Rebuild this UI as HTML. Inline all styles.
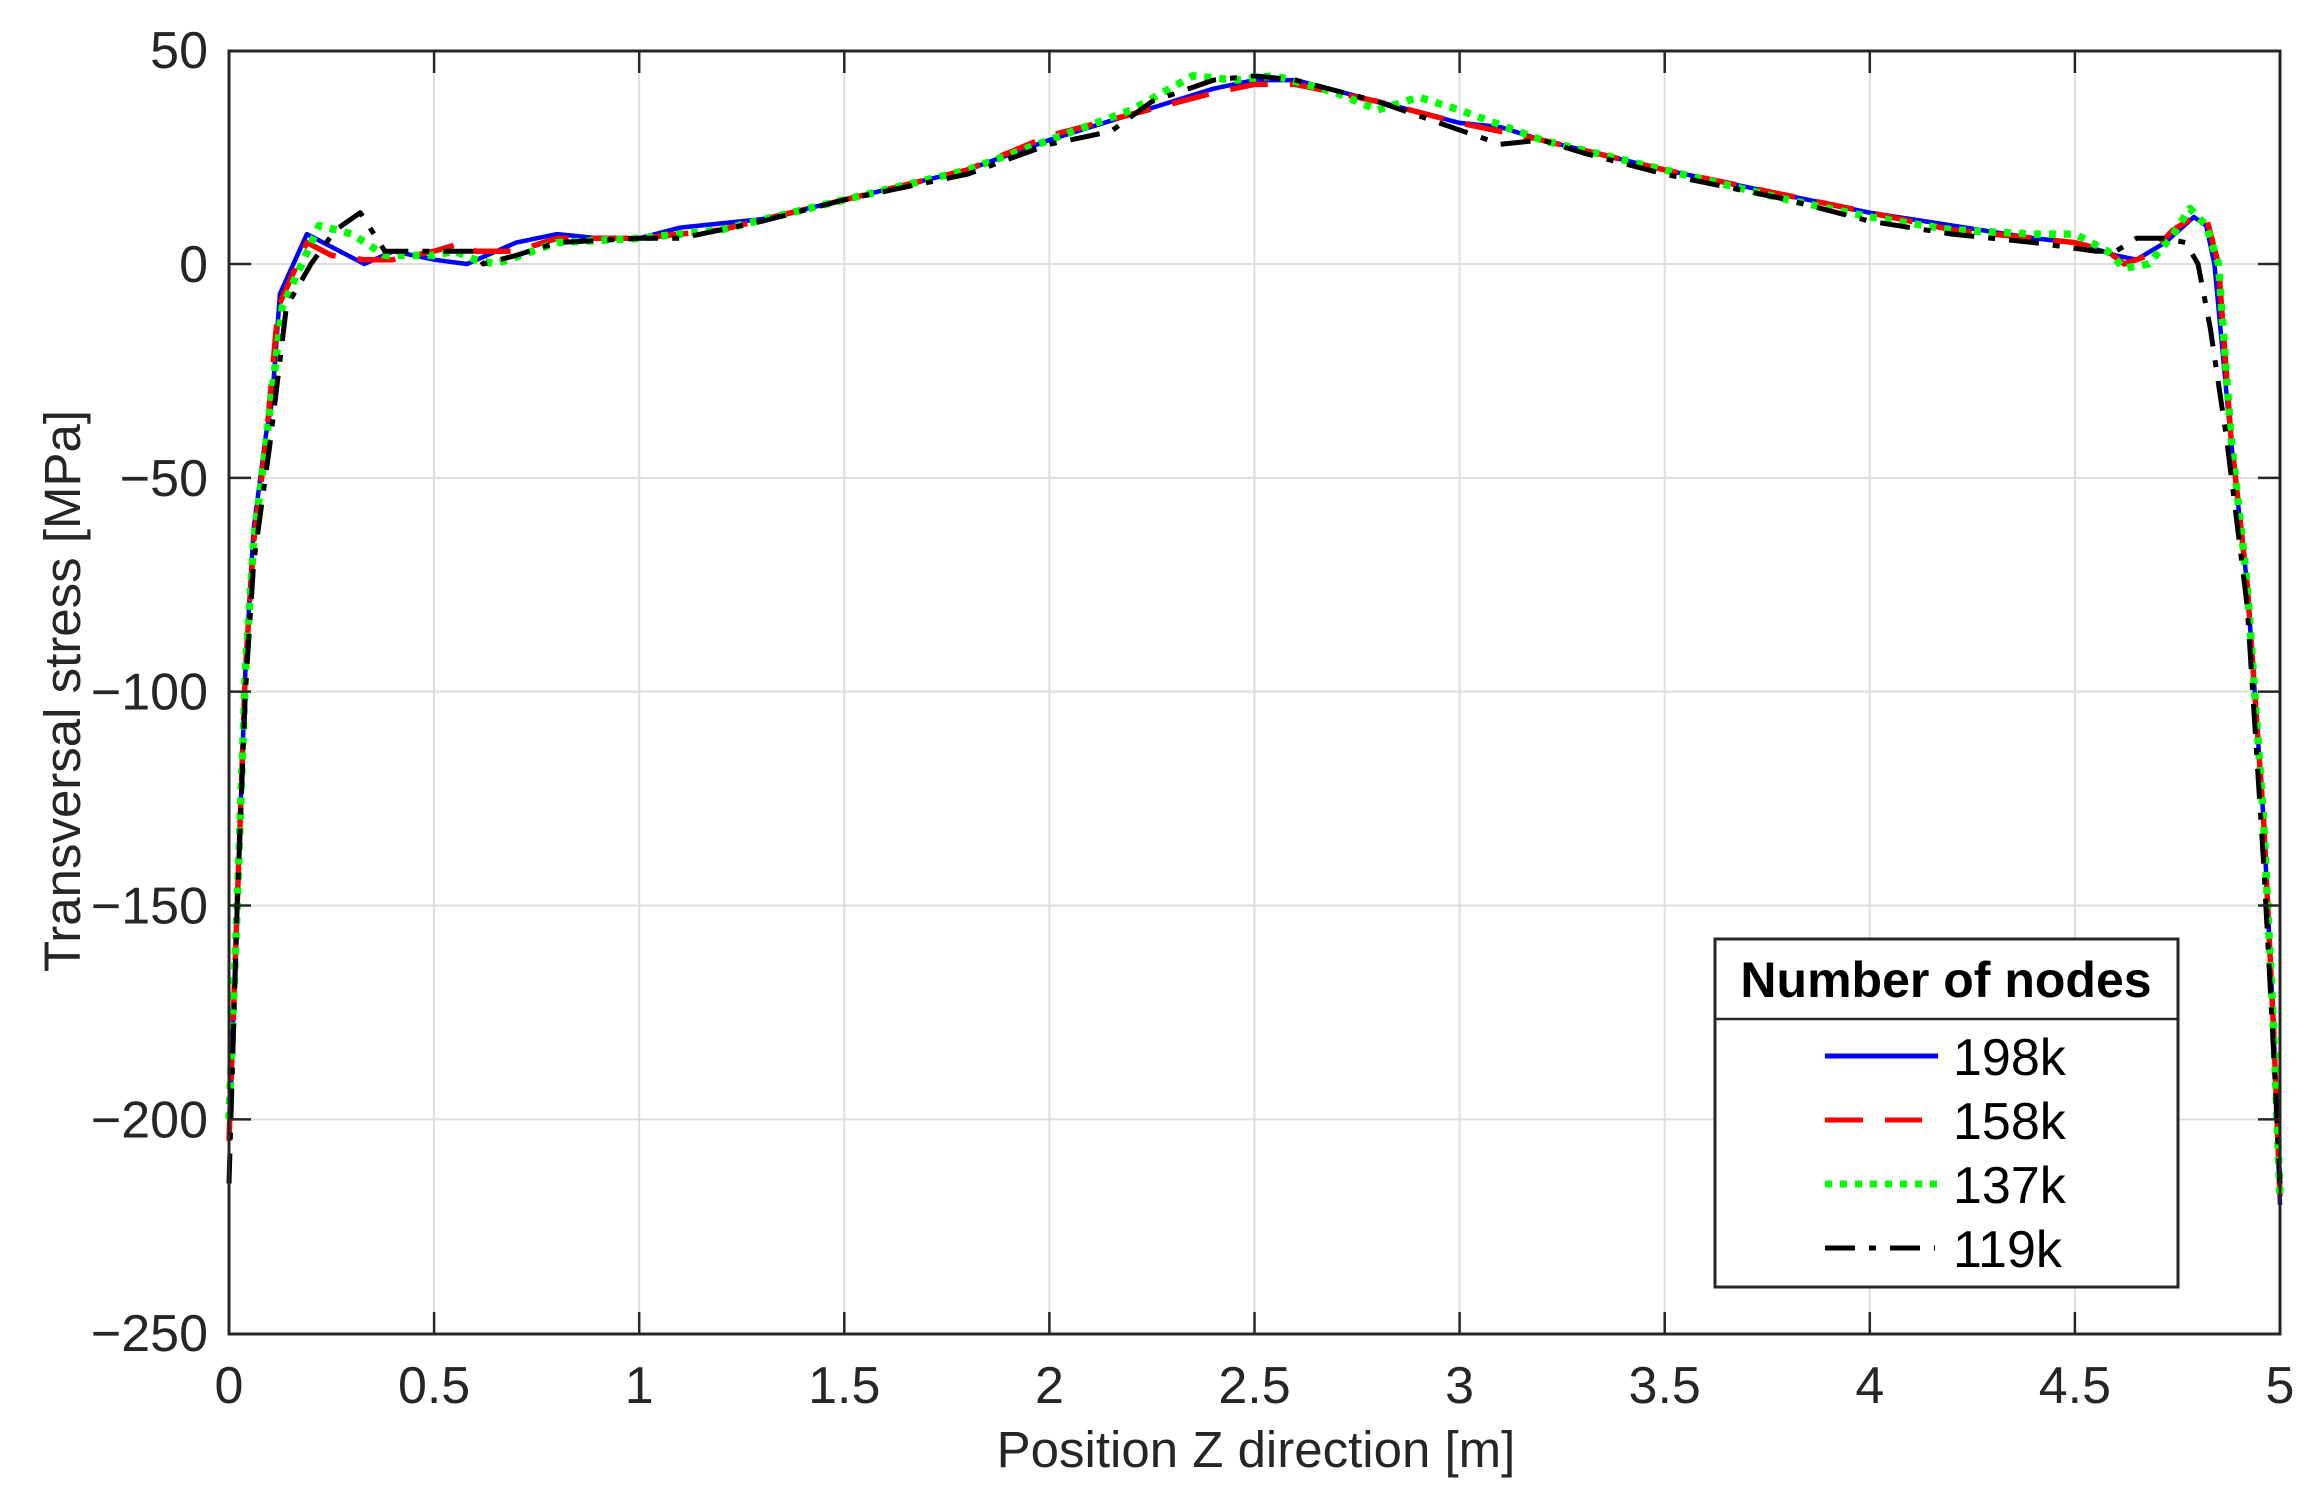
<!DOCTYPE html>
<html><head><meta charset="utf-8"><style>
html,body{margin:0;padding:0;background:#fff}
svg{display:block}
text{font-family:"Liberation Sans",Arial,sans-serif;fill:#262626}
</style></head><body>
<svg id="s" width="2316" height="1497" viewBox="0 0 2316 1497" xmlns="http://www.w3.org/2000/svg">
<g id="grid" stroke="#dedede" stroke-width="2"></g>
<g id="series" fill="none" stroke-linejoin="round"></g>
<rect x="229" y="51" width="2051" height="1283" fill="none" stroke="#262626" stroke-width="3"/>
<g id="ticks" stroke="#262626" stroke-width="2.5"></g>
<g id="labels" font-size="52"></g>
<text x="1256" y="1467" font-size="51" text-anchor="middle">Position Z direction [m]</text>
<text transform="translate(80,691) rotate(-90)" font-size="51" text-anchor="middle">Transversal stress [MPa]</text>
<g>
<rect x="1715" y="939" width="463" height="348" fill="#fff" stroke="#262626" stroke-width="3"/>
<line x1="1715" y1="1019" x2="2178" y2="1019" stroke="#262626" stroke-width="2.5"/>
<text x="1946" y="997" font-size="50" font-weight="bold" text-anchor="middle" style="fill:#000">Number of nodes</text>
<line x1="1825" y1="1056" x2="1938" y2="1056" stroke="#0000ff" stroke-width="5"/>
<line x1="1825" y1="1120" x2="1922" y2="1120" stroke="#ff0000" stroke-width="5" stroke-dasharray="38,22"/>
<line x1="1825" y1="1184" x2="1938" y2="1184" stroke="#00ff00" stroke-width="7" stroke-dasharray="7,8"/>
<line x1="1825" y1="1248" x2="1935" y2="1248" stroke="#000" stroke-width="5" stroke-dasharray="30,14,7,14"/>
<text x="1953" y="1075" font-size="52" style="fill:#000">198k</text>
<text x="1953" y="1139" font-size="52" style="fill:#000">158k</text>
<text x="1953" y="1203" font-size="52" style="fill:#000">137k</text>
<text x="1953" y="1267" font-size="52" style="fill:#000">119k</text>
</g>
</svg>
<script>
var X=function(x){return 229+x*410.2},Y=function(y){return 264-y*4.2767};
var NS="http://www.w3.org/2000/svg";
function el(p,t,a){var e=document.createElementNS(NS,t);for(var k in a)e.setAttribute(k,a[k]);document.getElementById(p).appendChild(e);return e;}
for(var i=1;i<10;i++){var x=X(i*0.5);el("grid","line",{x1:x,y1:51,x2:x,y2:1334});el("ticks","line",{x1:x,y1:51,x2:x,y2:73});el("ticks","line",{x1:x,y1:1334,x2:x,y2:1312});}
for(var v=-200;v<50;v+=50){var y=Y(v);el("grid","line",{x1:229,y1:y,x2:2280,y2:y});el("ticks","line",{x1:229,y1:y,x2:251,y2:y});el("ticks","line",{x1:2280,y1:y,x2:2258,y2:y});}
var xl=["0","0.5","1","1.5","2","2.5","3","3.5","4","4.5","5"];
for(var i=0;i<11;i++){var t=el("labels","text",{x:X(i*0.5),y:1403,"text-anchor":"middle"});t.textContent=xl[i];}
for(var v=-250;v<=50;v+=50){var t=el("labels","text",{x:208,y:Y(v)+18,"text-anchor":"end"});t.textContent=(v<0?"\u2212"+(-v):""+v);}
function P(a){return a.map(function(p){return X(p[0]).toFixed(1)+","+Y(p[1]).toFixed(1)}).join(" ");}
var blue=[[0,-205],[0.02,-150],[0.04,-95],[0.06,-62],[0.09,-40],[0.105,-32],[0.124,-7],[0.19,7],[0.33,0],[0.4,3],[0.5,1],[0.58,0],[0.7,5],[0.8,7],[0.9,6],[1,6],[1.1,8.5],[1.3,10.5],[1.5,15],[1.8,22],[2,29],[2.2,35],[2.4,41],[2.5,43],[2.6,43],[2.8,38],[3,33],[3.1,32],[3.2,29],[3.5,22],[3.8,16],[4,12],[4.2,9],[4.4,6],[4.5,5],[4.6,2],[4.65,1],[4.72,5],[4.79,11],[4.82,9],[4.84,0],[4.88,-41],[4.92,-75],[4.96,-130],[4.985,-180],[5,-220]];
var red=[[0,-205],[0.02,-150],[0.04,-95],[0.06,-65],[0.09,-42],[0.12,-10],[0.19,5],[0.25,2],[0.33,1],[0.4,1],[0.5,3],[0.57,5],[0.6,3],[0.7,3],[0.8,6],[0.9,6],[1,6],[1.2,8],[1.5,15],[1.8,22],[2,30],[2.2,35],[2.4,40],[2.5,42],[2.6,42],[2.8,38],[3,33],[3.2,29],[3.5,22],[3.8,16],[4,12],[4.2,8],[4.4,6],[4.5,5],[4.58,3],[4.62,0],[4.68,2],[4.74,8],[4.79,11],[4.82,11],[4.85,0],[4.88,-40],[4.92,-75],[4.96,-130],[4.985,-180],[5,-218]];
var green=[[0,-200],[0.02,-150],[0.04,-95],[0.06,-65],[0.09,-42],[0.13,-10],[0.22,9],[0.3,7],[0.38,2],[0.5,2],[0.55,3],[0.6,1],[0.65,0],[0.8,5],[1,6],[1.2,8],[1.5,15],[1.8,22],[2,29],[2.2,36],[2.35,44],[2.45,43],[2.55,44],[2.7,40],[2.8,36],[2.9,39],[3,36],[3.2,29],[3.5,22],[3.8,15],[4,11],[4.2,8],[4.4,7],[4.5,7],[4.58,3],[4.62,-1],[4.68,0],[4.74,7],[4.78,13],[4.82,9],[4.85,0],[4.88,-40],[4.92,-75],[4.96,-130],[4.985,-180],[5,-218]];
var black=[[0,-215],[0.02,-150],[0.04,-100],[0.06,-70],[0.1,-42],[0.14,-10],[0.2,0],[0.26,8],[0.32,12],[0.38,3],[0.5,3],[0.6,3],[0.62,0],[0.7,2],[0.8,5],[1,6],[1.1,6],[1.3,10],[1.5,15],[1.8,21],[2,28],[2.15,31],[2.25,38],[2.4,43],[2.5,44],[2.6,43],[2.8,38],[2.95,33],[3.1,28],[3.2,29],[3.3,26],[3.5,21],[3.8,15],[4,10],[4.2,7],[4.4,5],[4.55,3],[4.6,3],[4.65,6],[4.72,6],[4.77,5],[4.8,0],[4.83,-15],[4.87,-41],[4.92,-80],[4.96,-140],[4.985,-185],[5,-215]];
el("series","polyline",{points:P(blue),stroke:"#0000ff","stroke-width":4.5});
el("series","polyline",{points:P(red),stroke:"#ff0000","stroke-width":5.5,"stroke-dasharray":"38,22"});
el("series","polyline",{points:P(green),stroke:"#00ff00","stroke-width":7.5,"stroke-dasharray":"7,8"});
el("series","polyline",{points:P(black),stroke:"#000000","stroke-width":5,"stroke-dasharray":"30,14,7,14"});
</script>
</body></html>
